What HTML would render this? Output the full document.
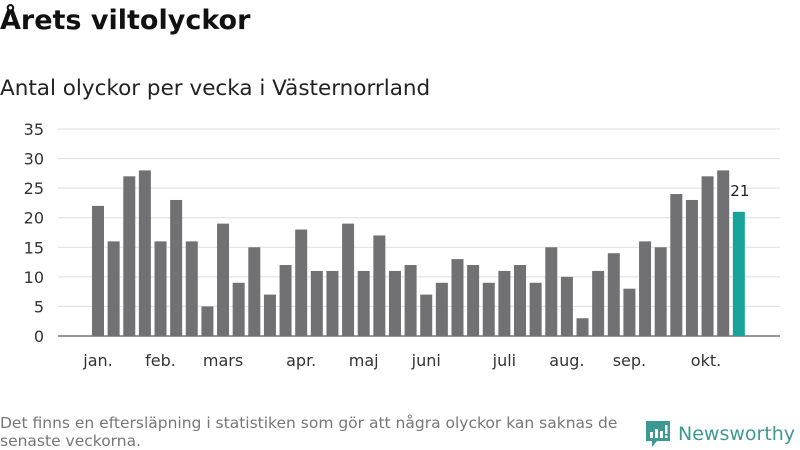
<!DOCTYPE html>
<html><head><meta charset="utf-8"><style>
body{margin:0;width:800px;height:450px;background:#fff;font-family:"DejaVu Sans","Liberation Sans",sans-serif;overflow:hidden;position:relative}
#title{position:absolute;left:0;top:5px;font-size:27px;font-weight:bold;color:#111;margin:0}
#sub{position:absolute;left:0;top:76px;font-size:21.5px;color:#222}
#note{position:absolute;left:0;top:414px;font-size:15.5px;color:#777;line-height:18px;width:660px}
#logo{position:absolute;left:645px;top:420px;display:flex;align-items:center;color:#3d9a92;font-size:19px}
</style></head><body>
<h1 id="title">Årets viltolyckor</h1>
<div id="sub">Antal olyckor per vecka i Västernorrland</div>
<svg id="chart" width="800" height="450" style="position:absolute;left:0;top:0"></svg>
<div id="note">Det finns en eftersläpning i statistiken som gör att några olyckor kan saknas de<br>senaste veckorna.</div>
<div id="logo"><svg width="26" height="28" viewBox="0 0 26 28"><path d="M1 1h24v20H12l-5 6v-6H1z" fill="#3d9a92"/><rect x="5" y="12" width="3" height="6" fill="#fff"/><rect x="10" y="9" width="3" height="9" fill="#fff"/><rect x="15" y="11" width="3" height="7" fill="#fff"/><rect x="20" y="5" width="2.5" height="9" fill="#fff"/><rect x="20" y="15.5" width="2.5" height="2.5" fill="#fff"/></svg><span style="margin-left:7px">Newsworthy</span></div>
<script>
const values=[22,16,27,28,16,23,16,5,19,9,15,7,12,18,11,11,19,11,17,11,12,7,9,13,12,9,11,12,9,15,10,3,11,14,8,16,15,24,23,27,28,21];
const yTicks=[0,5,10,15,20,25,30,35];
const monthLabels=["jan.","feb.","mars","apr.","maj","juni","juli","aug.","sep.","okt."];
const monthWeeks=[0,4,8,13,17,21,26,30,34,38.9];
const svg=document.getElementById('chart');
const NS='http://www.w3.org/2000/svg';
const x0=98,step=15.63,bw=12;
const xs=i=>x0+i*step;
const ys=v=>336-v*(207/35);
function mk(t,a){const e=document.createElementNS(NS,t);for(const k in a)e.setAttribute(k,a[k]);svg.appendChild(e);return e;}
yTicks.forEach(t=>{
 const l=mk('line',{x1:58,x2:780,y1:ys(t),y2:ys(t),stroke:t===0?'#333':'#ddd','stroke-width':1});
 
 
 const tx=mk('text',{x:44,y:ys(t)+6,'text-anchor':'end','font-size':16,fill:'#333','font-family':'DejaVu Sans,sans-serif'});
 tx.textContent=t;
 
 
});
values.forEach((v,i)=>{
 const last=i===values.length-1;
 const r=mk('rect',{x:xs(i)-bw/2,y:ys(v),width:bw,height:ys(0)-ys(v),fill:last?'#17a398':'#717073'});
 
 
 if(last){
  const t=mk('text',{x:xs(i)+1,y:ys(v)-16,'text-anchor':'middle','font-size':15,fill:'#222',stroke:'#fff','stroke-width':3,'paint-order':'stroke','font-family':'DejaVu Sans,sans-serif'});
  t.textContent=v;
  
  
 }
});
monthLabels.forEach((m,i)=>{
 const t=mk('text',{x:xs(monthWeeks[i]),y:366,'text-anchor':'middle','font-size':16,fill:'#333','font-family':'DejaVu Sans,sans-serif'});
 t.textContent=m;
 
 
});
</script>
</body></html>
